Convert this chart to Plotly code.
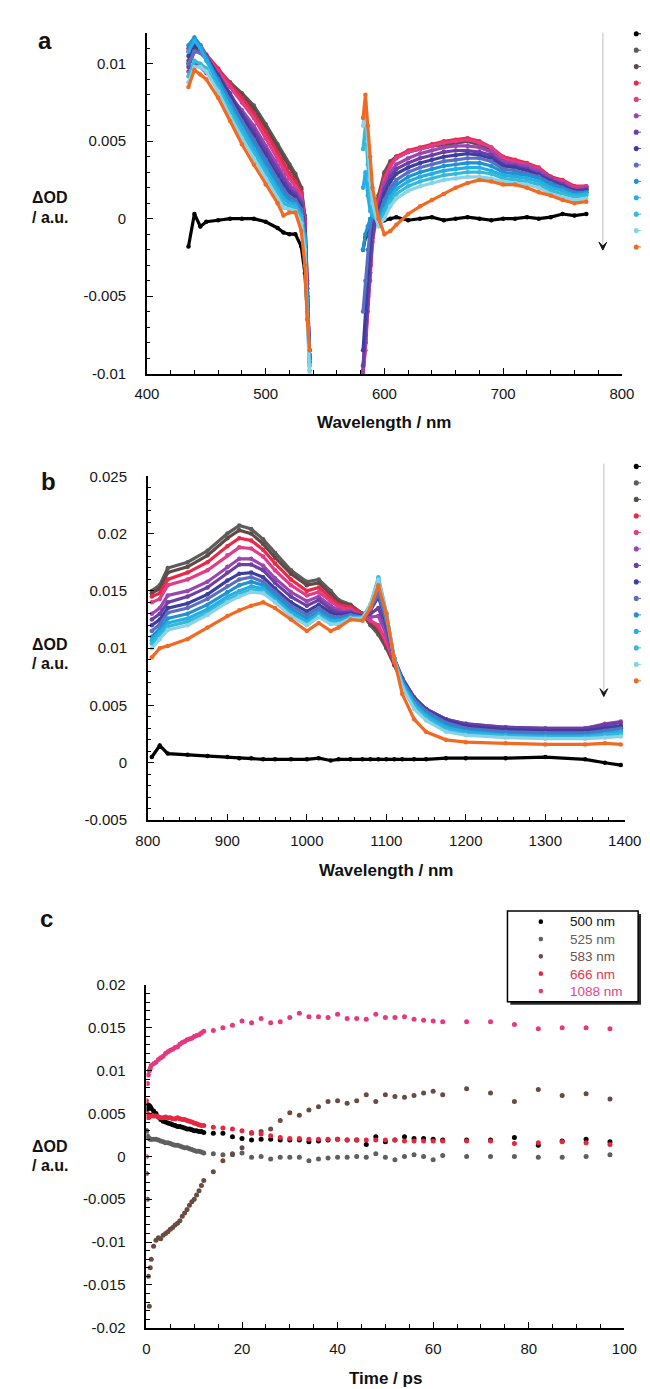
import plotly.graph_objects as go

W, H = 650, 1389

# ---------------- Panel a : visible transient spectra ----------------
WL_A_BLUE = [435, 440, 445, 450, 460, 470, 480, 490, 500, 510, 515, 520, 525, 530, 533, 535, 537]
WL_A_RED = [582, 584, 586, 588, 590, 595, 600, 605, 610, 620, 630, 640, 650, 660, 670, 680, 690,
            700, 710, 720, 730, 740, 750, 760, 770]

A01_BLUE = [-0.0018, 0.0003, -0.0005, -0.0002, -0.0001, 0.0000, 0.0000, 0.0000, -0.0002, -0.0006, -0.0009, -0.0010, -0.0010, -0.0018, -0.0035, -0.0060, -0.0085]
A02_BLUE = [0.0100, 0.0110, 0.0108, 0.0104, 0.0096, 0.0088, 0.0081, 0.0073, 0.0061, 0.0048, 0.0041, 0.0035, 0.0029, 0.0020, 0.0002, -0.0040, -0.0090]
A03_BLUE = [0.0102, 0.0111, 0.0109, 0.0104, 0.0096, 0.0087, 0.0080, 0.0071, 0.0059, 0.0046, 0.0039, 0.0033, 0.0027, 0.0019, 0.0000, -0.0042, -0.0090]
A04_BLUE = [0.0110, 0.0115, 0.0112, 0.0106, 0.0097, 0.0087, 0.0078, 0.0068, 0.0056, 0.0042, 0.0036, 0.0029, 0.0024, 0.0017, -0.0001, -0.0045, -0.0092]
A05_BLUE = [0.0108, 0.0114, 0.0111, 0.0105, 0.0095, 0.0085, 0.0075, 0.0065, 0.0052, 0.0038, 0.0032, 0.0026, 0.0021, 0.0015, -0.0003, -0.0045, -0.0090]
A06_BLUE = [0.0095, 0.0100, 0.0098, 0.0094, 0.0088, 0.0079, 0.0070, 0.0060, 0.0047, 0.0034, 0.0028, 0.0022, 0.0018, 0.0012, -0.0005, -0.0048, -0.0093]
A07_BLUE = [0.0098, 0.0108, 0.0108, 0.0104, 0.0093, 0.0081, 0.0068, 0.0057, 0.0044, 0.0031, 0.0025, 0.0019, 0.0016, 0.0010, -0.0007, -0.0050, -0.0090]
A08_BLUE = [0.0105, 0.0112, 0.0110, 0.0105, 0.0092, 0.0079, 0.0066, 0.0054, 0.0041, 0.0028, 0.0022, 0.0017, 0.0014, 0.0008, -0.0008, -0.0050, -0.0088]
A09_BLUE = [0.0100, 0.0108, 0.0107, 0.0103, 0.0090, 0.0076, 0.0063, 0.0051, 0.0038, 0.0025, 0.0019, 0.0014, 0.0012, 0.0006, -0.0010, -0.0052, -0.0088]
A10_BLUE = [0.0112, 0.0117, 0.0112, 0.0104, 0.0089, 0.0074, 0.0060, 0.0048, 0.0035, 0.0022, 0.0016, 0.0012, 0.0010, 0.0004, -0.0012, -0.0055, -0.0090]
A11_BLUE = [0.0108, 0.0115, 0.0110, 0.0102, 0.0087, 0.0072, 0.0058, 0.0045, 0.0032, 0.0019, 0.0013, 0.0010, 0.0009, 0.0002, -0.0014, -0.0058, -0.0095]
A12_BLUE = [0.0092, 0.0102, 0.0100, 0.0097, 0.0084, 0.0069, 0.0055, 0.0042, 0.0029, 0.0016, 0.0010, 0.0008, 0.0007, 0.0000, -0.0016, -0.0060, -0.0098]
A13_BLUE = [0.0088, 0.0098, 0.0098, 0.0095, 0.0082, 0.0066, 0.0052, 0.0039, 0.0026, 0.0013, 0.0007, 0.0006, 0.0005, -0.0003, -0.0020, -0.0065, -0.0100]
A14_BLUE = [0.0085, 0.0096, 0.0093, 0.0090, 0.0078, 0.0063, 0.0048, 0.0035, 0.0022, 0.0010, 0.0002, 0.0004, 0.0004, -0.0008, -0.0030, -0.0065, -0.0085]

A01_RED = [-0.0020, -0.0012, -0.0008, -0.0006, -0.0005, -0.0003, -0.0001, 0.0000, 0.0001, -0.0001, 0.0000, 0.0001, -0.0001, 0.0000, 0.0001, 0.0000, -0.0001, 0.0000, 0.0000, 0.0001, 0.0000, 0.0001, 0.0003, 0.0002, 0.0003]
A02_RED = [-0.0100, -0.0080, -0.0050, -0.0030, -0.0010, 0.0015, 0.0030, 0.0037, 0.0040, 0.0043, 0.0045, 0.0047, 0.0048, 0.0049, 0.0050, 0.0048, 0.0045, 0.0038, 0.0037, 0.0035, 0.0032, 0.0027, 0.0024, 0.0020, 0.0020]
A03_RED = [-0.0098, -0.0078, -0.0050, -0.0030, -0.0010, 0.0013, 0.0028, 0.0036, 0.0040, 0.0043, 0.0045, 0.0047, 0.0048, 0.0049, 0.0050, 0.0048, 0.0045, 0.0039, 0.0037, 0.0035, 0.0031, 0.0026, 0.0023, 0.0019, 0.0019]
A04_RED = [-0.0095, -0.0080, -0.0055, -0.0035, -0.0012, 0.0012, 0.0027, 0.0035, 0.0040, 0.0044, 0.0046, 0.0048, 0.0050, 0.0051, 0.0052, 0.0050, 0.0046, 0.0040, 0.0038, 0.0036, 0.0033, 0.0027, 0.0025, 0.0021, 0.0021]
A05_RED = [-0.0100, -0.0085, -0.0060, -0.0040, -0.0015, 0.0010, 0.0025, 0.0034, 0.0039, 0.0043, 0.0045, 0.0047, 0.0049, 0.0050, 0.0051, 0.0049, 0.0046, 0.0039, 0.0037, 0.0035, 0.0032, 0.0026, 0.0024, 0.0020, 0.0021]
A06_RED = [-0.0100, -0.0080, -0.0055, -0.0035, -0.0012, 0.0008, 0.0022, 0.0030, 0.0035, 0.0039, 0.0042, 0.0044, 0.0046, 0.0047, 0.0047, 0.0046, 0.0043, 0.0037, 0.0035, 0.0034, 0.0031, 0.0026, 0.0023, 0.0019, 0.0020]
A07_RED = [-0.0095, -0.0075, -0.0050, -0.0030, -0.0010, 0.0006, 0.0019, 0.0027, 0.0032, 0.0036, 0.0039, 0.0041, 0.0043, 0.0044, 0.0044, 0.0043, 0.0041, 0.0035, 0.0034, 0.0032, 0.0029, 0.0025, 0.0022, 0.0018, 0.0019]
A08_RED = [-0.0085, -0.0060, -0.0035, -0.0015, 0.0002, 0.0004, 0.0016, 0.0024, 0.0029, 0.0033, 0.0036, 0.0038, 0.0040, 0.0041, 0.0042, 0.0041, 0.0039, 0.0034, 0.0033, 0.0031, 0.0028, 0.0024, 0.0021, 0.0018, 0.0018]
A09_RED = [-0.0060, -0.0040, -0.0020, -0.0005, 0.0002, 0.0002, 0.0012, 0.0020, 0.0025, 0.0030, 0.0033, 0.0035, 0.0037, 0.0038, 0.0039, 0.0039, 0.0037, 0.0032, 0.0031, 0.0029, 0.0027, 0.0023, 0.0020, 0.0017, 0.0017]
A10_RED = [-0.0020, -0.0010, -0.0005, 0.0000, 0.0001, 0.0000, 0.0009, 0.0017, 0.0022, 0.0027, 0.0030, 0.0032, 0.0034, 0.0035, 0.0036, 0.0036, 0.0034, 0.0030, 0.0029, 0.0028, 0.0026, 0.0022, 0.0019, 0.0016, 0.0017]
A11_RED = [0.0020, 0.0030, 0.0015, 0.0005, 0.0002, -0.0002, 0.0006, 0.0014, 0.0019, 0.0024, 0.0027, 0.0029, 0.0031, 0.0032, 0.0033, 0.0033, 0.0031, 0.0028, 0.0027, 0.0026, 0.0024, 0.0020, 0.0018, 0.0015, 0.0016]
A12_RED = [0.0045, 0.0060, 0.0035, 0.0015, 0.0005, -0.0004, 0.0003, 0.0011, 0.0016, 0.0021, 0.0024, 0.0026, 0.0028, 0.0029, 0.0030, 0.0030, 0.0029, 0.0026, 0.0025, 0.0024, 0.0022, 0.0018, 0.0016, 0.0014, 0.0015]
A13_RED = [0.0060, 0.0075, 0.0050, 0.0025, 0.0010, -0.0005, 0.0000, 0.0008, 0.0013, 0.0018, 0.0021, 0.0023, 0.0025, 0.0026, 0.0027, 0.0027, 0.0026, 0.0024, 0.0023, 0.0022, 0.0020, 0.0016, 0.0014, 0.0012, 0.0013]
A14_RED = [0.0065, 0.0080, 0.0060, 0.0040, 0.0020, 0.0000, -0.0010, -0.0008, -0.0004, 0.0003, 0.0008, 0.0012, 0.0016, 0.0020, 0.0023, 0.0025, 0.0024, 0.0022, 0.0022, 0.0020, 0.0017, 0.0015, 0.0012, 0.0010, 0.0011]

# ---------------- Panel b : NIR transient spectra ----------------
WL_B = [805, 815, 825, 850, 875, 900, 915, 930, 945, 960, 980, 1000, 1015, 1030, 1040, 1055,
        1070, 1080, 1090, 1100, 1110, 1120, 1135, 1150, 1175, 1200, 1250, 1300, 1350, 1375, 1395]

B01 = [0.0005, 0.0015, 0.0008, 0.0007, 0.0006, 0.0005, 0.0004, 0.0004, 0.0003, 0.0003, 0.0003, 0.0003, 0.0004, 0.0002, 0.0003, 0.0003, 0.0003, 0.0003, 0.0003, 0.0003, 0.0003, 0.0003, 0.0003, 0.0003, 0.0004, 0.0004, 0.0004, 0.0005, 0.0003, 0.0000, -0.0002]
B02 = [0.0150, 0.0155, 0.0170, 0.0175, 0.0185, 0.0200, 0.0207, 0.0204, 0.0195, 0.0183, 0.0168, 0.0158, 0.0160, 0.0150, 0.0142, 0.0138, 0.0130, 0.0120, 0.0112, 0.0100, 0.0085, 0.0070, 0.0053, 0.0043, 0.0035, 0.0031, 0.0028, 0.0027, 0.0027, 0.0029, 0.0030]
B03 = [0.0148, 0.0152, 0.0166, 0.0171, 0.0181, 0.0196, 0.0203, 0.0200, 0.0191, 0.0179, 0.0165, 0.0155, 0.0157, 0.0147, 0.0140, 0.0137, 0.0130, 0.0122, 0.0115, 0.0102, 0.0086, 0.0070, 0.0053, 0.0043, 0.0035, 0.0031, 0.0028, 0.0027, 0.0027, 0.0029, 0.0030]
B04 = [0.0145, 0.0148, 0.0160, 0.0166, 0.0175, 0.0189, 0.0196, 0.0194, 0.0186, 0.0174, 0.0160, 0.0150, 0.0153, 0.0144, 0.0138, 0.0136, 0.0130, 0.0124, 0.0118, 0.0104, 0.0087, 0.0071, 0.0054, 0.0044, 0.0036, 0.0032, 0.0029, 0.0028, 0.0028, 0.0030, 0.0031]
B05 = [0.0140, 0.0143, 0.0155, 0.0160, 0.0168, 0.0181, 0.0188, 0.0187, 0.0180, 0.0168, 0.0155, 0.0146, 0.0149, 0.0141, 0.0136, 0.0134, 0.0128, 0.0124, 0.0120, 0.0106, 0.0088, 0.0072, 0.0055, 0.0045, 0.0037, 0.0033, 0.0030, 0.0028, 0.0028, 0.0031, 0.0032]
B06 = [0.0130, 0.0135, 0.0146, 0.0150, 0.0158, 0.0171, 0.0178, 0.0178, 0.0172, 0.0161, 0.0149, 0.0141, 0.0145, 0.0137, 0.0133, 0.0132, 0.0128, 0.0127, 0.0128, 0.0112, 0.0090, 0.0074, 0.0057, 0.0047, 0.0038, 0.0034, 0.0031, 0.0030, 0.0030, 0.0034, 0.0036]
B07 = [0.0125, 0.0130, 0.0140, 0.0145, 0.0153, 0.0166, 0.0173, 0.0173, 0.0168, 0.0157, 0.0145, 0.0137, 0.0142, 0.0134, 0.0131, 0.0131, 0.0128, 0.0130, 0.0135, 0.0118, 0.0091, 0.0074, 0.0057, 0.0047, 0.0038, 0.0034, 0.0031, 0.0030, 0.0030, 0.0033, 0.0035]
B08 = [0.0120, 0.0125, 0.0135, 0.0139, 0.0147, 0.0159, 0.0165, 0.0166, 0.0162, 0.0152, 0.0140, 0.0132, 0.0138, 0.0131, 0.0129, 0.0130, 0.0128, 0.0133, 0.0145, 0.0122, 0.0091, 0.0073, 0.0056, 0.0046, 0.0037, 0.0032, 0.0029, 0.0028, 0.0028, 0.0030, 0.0032]
B09 = [0.0115, 0.0121, 0.0131, 0.0135, 0.0143, 0.0154, 0.0160, 0.0162, 0.0158, 0.0149, 0.0137, 0.0129, 0.0135, 0.0128, 0.0127, 0.0129, 0.0127, 0.0134, 0.0148, 0.0124, 0.0091, 0.0072, 0.0055, 0.0045, 0.0035, 0.0030, 0.0027, 0.0026, 0.0026, 0.0028, 0.0030]
B10 = [0.0110, 0.0117, 0.0126, 0.0130, 0.0138, 0.0149, 0.0155, 0.0158, 0.0155, 0.0146, 0.0134, 0.0126, 0.0132, 0.0126, 0.0125, 0.0128, 0.0127, 0.0136, 0.0155, 0.0127, 0.0091, 0.0071, 0.0053, 0.0043, 0.0033, 0.0028, 0.0025, 0.0024, 0.0024, 0.0026, 0.0028]
B11 = [0.0107, 0.0114, 0.0122, 0.0126, 0.0134, 0.0145, 0.0150, 0.0154, 0.0152, 0.0143, 0.0131, 0.0123, 0.0130, 0.0124, 0.0124, 0.0127, 0.0127, 0.0138, 0.0160, 0.0130, 0.0091, 0.0069, 0.0051, 0.0041, 0.0031, 0.0027, 0.0024, 0.0023, 0.0023, 0.0025, 0.0027]
B12 = [0.0104, 0.0111, 0.0119, 0.0123, 0.0131, 0.0142, 0.0147, 0.0151, 0.0150, 0.0141, 0.0129, 0.0121, 0.0128, 0.0122, 0.0122, 0.0126, 0.0126, 0.0138, 0.0162, 0.0131, 0.0091, 0.0068, 0.0049, 0.0039, 0.0029, 0.0025, 0.0023, 0.0022, 0.0022, 0.0024, 0.0025]
B13 = [0.0100, 0.0108, 0.0116, 0.0120, 0.0129, 0.0140, 0.0145, 0.0149, 0.0148, 0.0140, 0.0128, 0.0120, 0.0127, 0.0121, 0.0121, 0.0126, 0.0126, 0.0138, 0.0160, 0.0131, 0.0090, 0.0066, 0.0047, 0.0037, 0.0027, 0.0024, 0.0022, 0.0021, 0.0021, 0.0022, 0.0023]
B14 = [0.0092, 0.0100, 0.0102, 0.0108, 0.0118, 0.0128, 0.0133, 0.0137, 0.0140, 0.0135, 0.0125, 0.0115, 0.0122, 0.0115, 0.0118, 0.0125, 0.0124, 0.0135, 0.0155, 0.0130, 0.0090, 0.0060, 0.0038, 0.0027, 0.0020, 0.0018, 0.0017, 0.0016, 0.0016, 0.0017, 0.0016]

SPECTRA_COLORS = ['#000000', '#5c5c5c', '#5e4b45', '#e8294a', '#e43b86', '#9a45b0', '#6b3fa6',
                  '#3c3fa0', '#5b6fc2', '#1f93d2', '#25aee6', '#35b9d6', '#86d3ea', '#f26a22']

# ---------------- Panel c : kinetics ----------------
TIME_PS = [0, 0.2, 0.4, 0.6, 0.8, 1, 1.5, 2, 2.5, 3, 3.5, 4, 4.5, 5, 5.5, 6, 6.5, 7, 7.5, 8, 8.5, 9, 9.5, 10, 10.5, 11, 11.5, 12,
           14, 16, 18, 20, 22, 24, 26, 28, 30, 32, 34, 36, 38, 40, 42, 44, 46, 48, 50, 52, 54, 56, 58, 60, 62,
           67, 72, 77, 82, 87, 92, 97]

K500 = [0.0030, 0.0055, 0.0060, 0.0059, 0.0058, 0.0056, 0.0053, 0.0050, 0.0046, 0.0043, 0.0041, 0.0040, 0.0039, 0.0038, 0.0037, 0.0036, 0.0035, 0.0035, 0.0034, 0.0033, 0.0032, 0.0032, 0.0031, 0.0030, 0.0030, 0.0029, 0.0029, 0.0028,
        0.0027, 0.0027, 0.0023, 0.0021, 0.0019, 0.0020, 0.0020, 0.0019, 0.0019, 0.0019, 0.0017, 0.0018, 0.0019, 0.0020, 0.0019, 0.0019, 0.0014, 0.0023, 0.0017, 0.0019, 0.0023, 0.0021, 0.0021, 0.0020, 0.0019,
        0.0019, 0.0019, 0.0022, 0.0013, 0.0018, 0.0020, 0.0017]
K525 = [0.0030, 0.0024, 0.0022, 0.0021, 0.0020, 0.0020, 0.0020, 0.0020, 0.0019, 0.0018, 0.0017, 0.0016, 0.0016, 0.0015, 0.0014, 0.0013, 0.0013, 0.0012, 0.0011, 0.0010, 0.0010, 0.0009, 0.0008, 0.0007, 0.0006, 0.0006, 0.0005, 0.0004,
        0.0003, 0.0002, 0.0002, 0.0004, -0.0001, 0.0000, -0.0003, -0.0001, -0.0001, -0.0001, -0.0005, -0.0003, -0.0002, -0.0001, -0.0001, 0.0000, -0.0001, 0.0003, -0.0001, -0.0004, 0.0000, 0.0002, 0.0000, -0.0004, 0.0001,
        0.0000, 0.0000, 0.0000, -0.0001, -0.0001, 0.0000, 0.0002]
K583 = [-0.0020, -0.0050, -0.0140, -0.0175, -0.0130, -0.0120, -0.0105, -0.0098, -0.0095, -0.0096, -0.0092, -0.0090, -0.0088, -0.0085, -0.0083, -0.0080, -0.0078, -0.0075, -0.0070, -0.0066, -0.0062, -0.0057, -0.0053, -0.0050, -0.0045, -0.0040, -0.0034, -0.0028,
        -0.0018, -0.0005, 0.0003, 0.0010, 0.0027, 0.0029, 0.0032, 0.0042, 0.0051, 0.0048, 0.0054, 0.0058, 0.0064, 0.0065, 0.0062, 0.0065, 0.0072, 0.0064, 0.0072, 0.0070, 0.0069, 0.0071, 0.0074, 0.0076, 0.0072,
        0.0079, 0.0074, 0.0064, 0.0078, 0.0071, 0.0073, 0.0067]
K666 = [0.0065, 0.0050, 0.0045, 0.0046, 0.0048, 0.0048, 0.0047, 0.0047, 0.0046, 0.0045, 0.0045, 0.0046, 0.0045, 0.0045, 0.0044, 0.0044, 0.0045, 0.0044, 0.0043, 0.0043, 0.0042, 0.0041, 0.0040, 0.0039, 0.0038, 0.0037, 0.0036, 0.0036,
        0.0034, 0.0033, 0.0032, 0.0030, 0.0028, 0.0026, 0.0024, 0.0022, 0.0021, 0.0021, 0.0020, 0.0020, 0.0020, 0.0020, 0.0019, 0.0019, 0.0019, 0.0019, 0.0019, 0.0019, 0.0018, 0.0018, 0.0018, 0.0018, 0.0018,
        0.0018, 0.0018, 0.0015, 0.0016, 0.0017, 0.0016, 0.0014]
K1088 = [0.0000, 0.0085, 0.0095, 0.0100, 0.0103, 0.0106, 0.0108, 0.0110, 0.0113, 0.0115, 0.0117, 0.0120, 0.0122, 0.0124, 0.0125, 0.0127, 0.0128, 0.0131, 0.0133, 0.0134, 0.0136, 0.0137, 0.0138, 0.0140, 0.0141, 0.0142, 0.0144, 0.0146,
         0.0147, 0.0150, 0.0153, 0.0158, 0.0156, 0.0161, 0.0156, 0.0157, 0.0162, 0.0167, 0.0163, 0.0163, 0.0162, 0.0166, 0.0161, 0.0161, 0.0160, 0.0166, 0.0162, 0.0162, 0.0163, 0.0160, 0.0159, 0.0158, 0.0157,
         0.0157, 0.0157, 0.0154, 0.0149, 0.0150, 0.0150, 0.0149]

KIN_LABELS = ['500 nm', '525 nm', '583 nm', '666 nm', '1088 nm']
KIN_COLORS = ['#000000', '#5f5f5f', '#6b4b40', '#e8263f', '#e6387f']
KIN_TEXT_COLORS = ['#111111', '#606060', '#6e5248', '#e8344e', '#e0448c']

Y_A_TICKS = [-0.01, -0.005, 0, 0.005, 0.01]
Y_A_TEXT = ['-0.01', '-0.005', '0', '0.005', '0.01']
Y_B_TICKS = [-0.005, 0, 0.005, 0.01, 0.015, 0.02, 0.025]
Y_B_TEXT = ['-0.005', '0', '0.005', '0.01', '0.015', '0.02', '0.025']
Y_C_TICKS = [-0.02, -0.015, -0.01, -0.005, 0, 0.005, 0.01, 0.015, 0.02]
Y_C_TEXT = ['-0.02', '-0.015', '-0.01', '-0.005', '0', '0.005', '0.01', '0.015', '0.02']
X_A_TICKS = [400, 500, 600, 700, 800]
X_B_TICKS = [800, 900, 1000, 1100, 1200, 1300, 1400]
X_C_TICKS = [0, 20, 40, 60, 80, 100]

FONT = 'Liberation Sans, Arial, Helvetica, sans-serif'


def px(x):
    return x / W


def py(y):
    return 1 - y / H


fig = go.Figure()

A_SERIES = [(A01_BLUE, A01_RED), (A02_BLUE, A02_RED), (A03_BLUE, A03_RED), (A04_BLUE, A04_RED),
            (A05_BLUE, A05_RED), (A06_BLUE, A06_RED), (A07_BLUE, A07_RED), (A08_BLUE, A08_RED),
            (A09_BLUE, A09_RED), (A10_BLUE, A10_RED), (A11_BLUE, A11_RED), (A12_BLUE, A12_RED),
            (A13_BLUE, A13_RED), (A14_BLUE, A14_RED)]
B_SERIES = [B01, B02, B03, B04, B05, B06, B07, B08, B09, B10, B11, B12, B13, B14]

for i, (blue, red) in enumerate(A_SERIES):
    n1 = min(len(blue), len(WL_A_BLUE))
    n2 = min(len(red), len(WL_A_RED))
    fig.add_trace(go.Scatter(
        x=WL_A_BLUE[:n1] + [None] + WL_A_RED[:n2], y=blue[:n1] + [None] + red[:n2],
        mode='lines+markers', connectgaps=False,
        line=dict(color=SPECTRA_COLORS[i], width=3.2),
        marker=dict(color=SPECTRA_COLORS[i], size=4.5),
        xaxis='x', yaxis='y', showlegend=False, hoverinfo='skip'))

for i, ys in enumerate(B_SERIES):
    n = min(len(ys), len(WL_B))
    fig.add_trace(go.Scatter(
        x=WL_B[:n], y=ys[:n], mode='lines+markers',
        line=dict(color=SPECTRA_COLORS[i], width=3.2),
        marker=dict(color=SPECTRA_COLORS[i], size=4.5),
        xaxis='x2', yaxis='y2', showlegend=False, hoverinfo='skip'))

for ys, col in zip([K500, K525, K583, K666, K1088], KIN_COLORS):
    n = min(len(ys), len(TIME_PS))
    fig.add_trace(go.Scatter(
        x=TIME_PS[:n], y=ys[:n], mode='markers',
        marker=dict(color=col, size=5),
        xaxis='x3', yaxis='y3', showlegend=False, hoverinfo='skip'))


def axis(domain, rng, tickvals, ticktext, minor_dtick, anchor, standoff):
    return dict(domain=domain, range=rng, anchor=anchor, tickmode='array', tickvals=tickvals,
                ticktext=ticktext, showline=True, linecolor='black', linewidth=1.6,
                ticks='inside', ticklen=6, tickwidth=1.4, tickcolor='black',
                showgrid=False, zeroline=False, ticklabelstandoff=standoff,
                tickfont=dict(family=FONT, size=15, color='#151515'),
                minor=dict(ticks='inside', ticklen=3.5, tickwidth=1.1, tickcolor='black',
                           dtick=minor_dtick, showgrid=False))


fig.update_layout(
    width=W, height=H, margin=dict(l=0, r=0, t=0, b=0),
    paper_bgcolor='white', plot_bgcolor='white', showlegend=False,
    xaxis=axis([px(132), px(630)], [400, 800], X_A_TICKS, [str(v) for v in X_A_TICKS], 20, 'y', 6),
    yaxis=axis([py(361), py(16)], [-0.01, 0.0120], Y_A_TICKS, Y_A_TEXT, 0.001, 'x', 16),
    xaxis2=axis([px(133), px(633)], [800, 1400], X_B_TICKS, [str(v) for v in X_B_TICKS], 20, 'y2', 6),
    yaxis2=axis([py(813), py(465)], [-0.005, 0.025], Y_B_TICKS, Y_B_TEXT, 0.001, 'x2', 16),
    xaxis3=axis([px(131.5), px(632.5)], [0, 100], X_C_TICKS, [str(v) for v in X_C_TICKS], 5, 'y3', 6),
    yaxis3=axis([py(1327), py(980)], [-0.02, 0.02], Y_C_TICKS, Y_C_TEXT, 0.001, 'x3', 16),
)

annotations = []


def text(x, y, s, size, bold=False, color='#111111', xanchor='center', align='center'):
    annotations.append(dict(
        x=px(x), y=py(y), xref='paper', yref='paper', showarrow=False,
        text=('<b>%s</b>' % s) if bold else s, xanchor=xanchor, yanchor='middle', align=align,
        font=dict(family=FONT, size=size, color=color)))


# panel letters
text(25, 24, 'a', 24, True)
text(29, 470, 'b', 24, True)
text(27, 913, 'c', 24, True)
# axis titles
text(381, 411, 'Wavelength / nm', 17, True)
text(383, 864, 'Wavelength / nm', 17, True)
text(382, 1378, 'Time / ps', 17, True)
for y0 in (183, 635, 1143):
    text(9, y0, 'ΔOD', 16, True, xanchor='left')
    text(9, y0 + 20, '/ a.u.', 16, True, xanchor='left')

shapes = []


def circle(x, y, r, color):
    shapes.append(dict(type='circle', xref='paper', yref='paper',
                       x0=px(x - r), x1=px(x + r), y0=py(y + r), y1=py(y - r),
                       fillcolor=color, line=dict(width=0)))


def arrow(x, y0, y1):
    shapes.append(dict(type='line', xref='paper', yref='paper', x0=px(x), x1=px(x),
                       y0=py(y0), y1=py(y1 - 3), line=dict(color='#c8c8c8', width=1.2)))
    path = 'M %f %f L %f %f L %f %f L %f %f Z' % (
        px(x - 4), py(y1 - 8), px(x), py(y1), px(x + 4), py(y1 - 8), px(x), py(y1 - 4))
    shapes.append(dict(type='path', xref='paper', yref='paper', path=path,
                       fillcolor='#111111', line=dict(color='#111111', width=1)))


# direction arrows and (clipped) legend markers of panels a and b
arrow(610, 16, 236)
arrow(611, 452, 688)
for i, col in enumerate(SPECTRA_COLORS):
    circle(645, 17 + i * 16.6, 2.6, col)
    shapes.append(dict(type='line', xref='paper', yref='paper', x0=px(646), x1=px(650),
                       y0=py(17 + i * 16.6), y1=py(17 + i * 16.6), line=dict(color=col, width=1)))
    circle(645, 455 + i * 16.7, 2.6, col)
    shapes.append(dict(type='line', xref='paper', yref='paper', x0=px(646), x1=px(650),
                       y0=py(455 + i * 16.7), y1=py(455 + i * 16.7), line=dict(color=col, width=1)))

# legend box of panel c (with drop shadow)
shapes.append(dict(type='rect', xref='paper', yref='paper', x0=px(513), x1=px(650),
                   y0=py(1000), y1=py(908), fillcolor='#2a2a2a', line=dict(width=0)))
shapes.append(dict(type='rect', xref='paper', yref='paper', x0=px(510), x1=px(647),
                   y0=py(997), y1=py(905), fillcolor='white', line=dict(color='black', width=1.5)))

LEG_FS = 13.5
LEG_STEP = LEG_FS * 1.3
LEG_MID = 951
legend_lines = '<br>'.join('<span style="color:%s">%s</span>' % (tc, lab)
                           for lab, tc in zip(KIN_LABELS, KIN_TEXT_COLORS))
text(573, LEG_MID, legend_lines, LEG_FS, False, '#111111', xanchor='left', align='left')
for i, col in enumerate(KIN_COLORS):
    circle(545, LEG_MID + (i - 2) * LEG_STEP, 2.4, col)

fig.update_layout(annotations=annotations, shapes=shapes)
fig.write_html('out.html')
